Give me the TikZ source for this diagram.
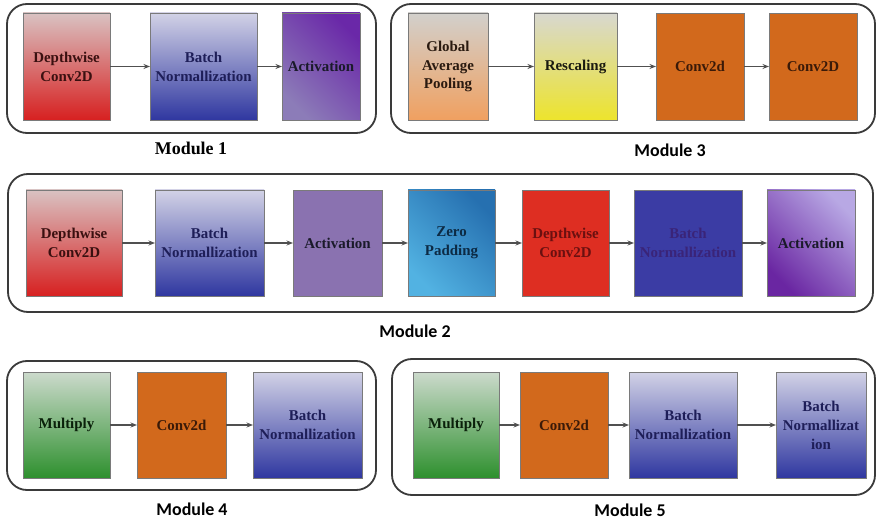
\documentclass[tikz,border=0pt]{standalone}
\usepackage{fontspec}
\setmainfont{LiberationSerif}[Extension=.ttf, UprightFont=*-Regular, BoldFont=*-Bold, ItalicFont=*-Italic, BoldItalicFont=*-BoldItalic]
\newfontfamily\labfont{Carlito}[BoldFont={Carlito Bold}]
\usetikzlibrary{arrows.meta}
\definecolor{frameC}{HTML}{3A3A3A}
\definecolor{edgeC}{HTML}{7A7A7A}
\definecolor{arrC}{HTML}{505050}
\definecolor{convC}{HTML}{D2691C}
\definecolor{dwT}{HTML}{D9C2C2}\definecolor{dwB}{HTML}{D72020}\definecolor{dwTx}{HTML}{3A1010}
\definecolor{bnT}{HTML}{D2D2E6}\definecolor{bnM}{HTML}{5A5FC4}\definecolor{bnB}{HTML}{2F37A0}\definecolor{bnTx}{HTML}{1E1E58}
\definecolor{acAT}{HTML}{6A28A8}\definecolor{acAB}{HTML}{8C7CB8}\definecolor{acTx}{HTML}{1A1A2A}
\definecolor{acF}{HTML}{8A72B0}
\definecolor{zpT}{HTML}{2670B0}\definecolor{zpB}{HTML}{52B2E2}\definecolor{zpTx}{HTML}{0C2A44}
\definecolor{dwF}{HTML}{DE2E22}\definecolor{dwFTx}{HTML}{6A1010}
\definecolor{bnF}{HTML}{3B3CA4}\definecolor{bnFTx}{HTML}{3A2478}
\definecolor{acBT}{HTML}{B8A8E4}\definecolor{acBB}{HTML}{6A26A2}
\definecolor{gapT}{HTML}{D2D0CC}\definecolor{gapB}{HTML}{F0A060}\definecolor{gapTx}{HTML}{2A1A10}
\definecolor{resT}{HTML}{D8D8D0}\definecolor{resB}{HTML}{EDE42C}\definecolor{resTx}{HTML}{1A1A10}
\definecolor{convTx}{HTML}{3A1A08}
\definecolor{mulT}{HTML}{CCDACC}\definecolor{mulB}{HTML}{2E902E}\definecolor{mulTx}{HTML}{0A200A}
\tikzset{
  blkbox/.style={draw=edgeC, line width=0.7bp, inner sep=0pt, outer sep=0pt, align=center,
    font=\fontsize{15}{19}\selectfont\bfseries},
  framebox/.style={draw=frameC, line width=1.8bp, rounded corners=20bp, inner sep=0pt, outer sep=0pt},
  flow/.style={draw=arrC, line width=1.2bp, -{Stealth[length=6.5bp,width=5bp]}},
  modlab/.style={font=\labfont\fontsize{18}{20}\selectfont\bfseries, text=black},
  modlabserif/.style={font=\fontsize{18}{20}\selectfont\bfseries, text=black},
  dwgrad/.style={top color=dwT, bottom color=dwB, text=dwTx},
  bngrad/.style={top color=bnT, middle color=bnM, bottom color=bnB, text=bnTx},
  actgradA/.style={top color=acAT, bottom color=acAB, shading angle=-45, text=acTx},
  actflat/.style={fill=acF, text=acTx},
  zpgrad/.style={top color=zpT, bottom color=zpB, shading angle=-45, text=zpTx},
  dwflat/.style={fill=dwF, text=dwFTx},
  bnflat/.style={fill=bnF, text=bnFTx},
  actgradB/.style={top color=acBT, bottom color=acBB, shading angle=-45, text=acTx},
  gapgrad/.style={top color=gapT, bottom color=gapB, text=gapTx},
  resgrad/.style={top color=resT, bottom color=resB, text=resTx},
  convflat/.style={fill=convC, text=convTx},
  mulgrad/.style={top color=mulT, bottom color=mulB, text=mulTx},
}
\newcommand\mkbox[7]{\node[#6,minimum width={(#3-#2)*1bp},minimum height={(#5-#4)*1bp}] (#1) at ({(#2+#3)/2},{(#4+#5)/2}) {#7};}
\begin{document}
\begin{tikzpicture}[x=1bp,y=-1bp]
\useasboundingbox[fill=white] (0,0) rectangle (877,524);
% frames
\mkbox{fA}{7}{376}{4}{133}{framebox}{}
\mkbox{fC}{391}{875}{4}{133}{framebox}{}
\mkbox{fB}{8}{873}{174}{312}{framebox}{}
\mkbox{fD}{7}{376}{361}{490}{framebox}{}
\mkbox{fE}{392}{875}{359}{495}{framebox}{}
% Module 1
\mkbox{a1}{23}{110}{13}{120}{blkbox,dwgrad}{Depthwise\\Conv2D}
\mkbox{a2}{150}{257}{13}{120}{blkbox,bngrad}{Batch\\Normallization}
\mkbox{a3}{282}{360}{13}{120}{blkbox,actgradA}{Activation}
\draw[flow] (a1) -- (a2);
\draw[flow] (a2) -- (a3);
\node[modlabserif] (lA) at (191,148) {Module 1};
% Module 3
\mkbox{c1}{408}{488}{13}{120}{blkbox,gapgrad}{Global\\Average\\Pooling}
\mkbox{c2}{534}{617}{13}{120}{blkbox,resgrad}{Rescaling}
\mkbox{c3}{656}{744}{13}{120}{blkbox,convflat}{Conv2d}
\mkbox{c4}{769}{857}{13}{120}{blkbox,convflat}{Conv2D}
\draw[flow] (c1) -- (c2);
\draw[flow] (c2) -- (c3);
\draw[flow] (c3) -- (c4);
\node[modlab] (lC) at (670,150) {Module 3};
% Module 2
\mkbox{b1}{26}{122}{190}{296}{blkbox,dwgrad}{Depthwise\\Conv2D}
\mkbox{b2}{155}{264}{190}{296}{blkbox,bngrad}{Batch\\Normallization}
\mkbox{b3}{293}{382}{190}{296}{blkbox,actflat}{Activation}
\mkbox{b4}{408}{495}{190}{296}{blkbox,zpgrad}{Zero\\Padding}
\mkbox{b5}{522}{609}{190}{296}{blkbox,dwflat}{Depthwise\\Conv2D}
\mkbox{b6}{634}{742}{190}{296}{blkbox,bnflat}{Batch\\Normallization}
\mkbox{b7}{767}{855}{190}{296}{blkbox,actgradB}{Activation}
\draw[flow] (b1) -- (b2);
\draw[flow] (b2) -- (b3);
\draw[flow] (b3) -- (b4);
\draw[flow] (b4) -- (b5);
\draw[flow] (b5) -- (b6);
\draw[flow] (b6) -- (b7);
\node[modlab] (lB) at (415,331) {Module 2};
% Module 4
\mkbox{d1}{23}{110}{372}{478}{blkbox,mulgrad}{Multiply}
\mkbox{d2}{137}{226}{372}{478}{blkbox,convflat}{Conv2d}
\mkbox{d3}{253}{362}{372}{478}{blkbox,bngrad}{Batch\\Normallization}
\draw[flow] (d1) -- (d2);
\draw[flow] (d2) -- (d3);
\node[modlab] (lD) at (192,509) {Module 4};
% Module 5
\mkbox{e1}{413}{499}{372}{478}{blkbox,mulgrad}{Multiply}
\mkbox{e2}{520}{608}{372}{478}{blkbox,convflat}{Conv2d}
\mkbox{e3}{629}{737}{372}{478}{blkbox,bngrad}{Batch\\Normallization}
\mkbox{e4}{776}{866}{372}{478}{blkbox,bngrad}{Batch\\Normallizat\\ion}
\draw[flow] (e1) -- (e2);
\draw[flow] (e2) -- (e3);
\draw[flow] (e3) -- (e4);
\node[modlab] (lE) at (630,510) {Module 5};
\end{tikzpicture}
\end{document}
